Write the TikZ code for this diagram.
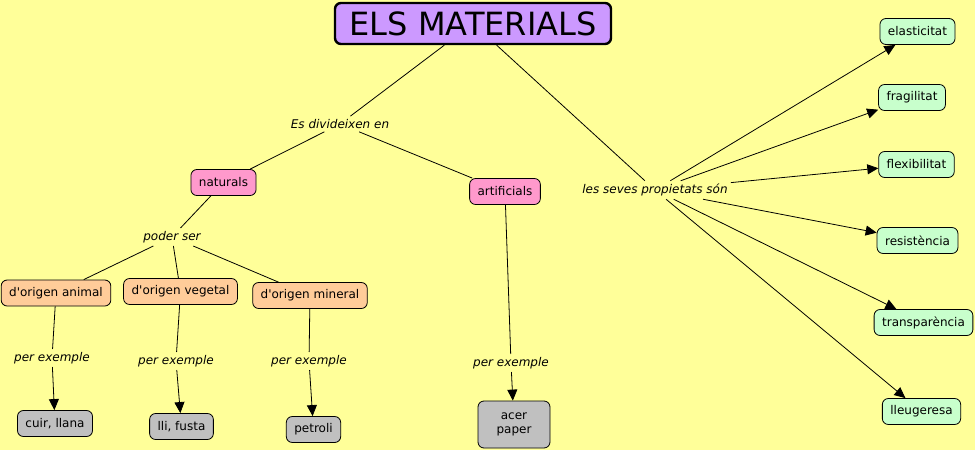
\documentclass[tikz,border=0pt]{standalone}
\usepackage{fontspec}
\setmainfont{DejaVu Sans}
\usetikzlibrary{arrows.meta, positioning}
\definecolor{cbg}{HTML}{FFFF99}
\definecolor{ctitle}{HTML}{CC99FF}
\definecolor{cpink}{HTML}{FF99CC}
\definecolor{corange}{HTML}{FFCC99}
\definecolor{cgray}{HTML}{C0C0C0}
\definecolor{cgreen}{HTML}{C8FFCC}

\begin{document}
\begin{tikzpicture}[
  x=1pt, y=-1pt,
  font=\fontsize{12}{14}\selectfont,
  >={Triangle[length=11pt, width=10pt]},
  box/.style={draw, line width=0.8pt, rounded corners=6pt, align=center,
              inner xsep=8pt, inner ysep=3pt, minimum height=26pt},
  link/.style={inner sep=3pt, font=\fontsize{12}{14}\selectfont\itshape},
  line/.style={line width=0.8pt},
  arr/.style={->, line width=0.8pt},
  ]
\fill[cbg] (0,0) rectangle (975,450);
\useasboundingbox (0,0) rectangle (975,450);

% concepts
\node[box, fill=ctitle, line width=2.4pt, minimum width=276pt, minimum height=41pt,
      font=\fontsize{32}{36}\selectfont] (title) at (473,23.5) {ELS MATERIALS};
\node[box, fill=cpink] (naturals) at (223.5,182.5) {naturals};
\node[box, fill=cpink] (artificials) at (505,191.5) {artificials};
\node[box, fill=corange] (animal) at (56,293) {d\textquotesingle origen animal};
\node[box, fill=corange] (vegetal) at (180.5,291.5) {d\textquotesingle origen vegetal};
\node[box, fill=corange] (mineral) at (310,295.5) {d\textquotesingle origen mineral};
\node[box, fill=cgray] (cuir) at (55,423.5) {cuir, llana};
\node[box, fill=cgray] (lli) at (181.5,426.5) {lli, fusta};
\node[box, fill=cgray] (petroli) at (313.5,429.5) {petroli};
\node[box, fill=cgray, minimum width=72pt, minimum height=47pt] (acer) at (514,424.5) {acer\\paper};
\node[box, fill=cgreen] (elast) at (917.5,31.5) {elasticitat};
\node[box, fill=cgreen] (fragil) at (912,97.5) {fragilitat};
\node[box, fill=cgreen] (flexib) at (916.5,164.5) {flexibilitat};
\node[box, fill=cgreen] (resist) at (917.5,240.5) {resistència};
\node[box, fill=cgreen] (transp) at (923.5,322.5) {transparència};
\node[box, fill=cgreen] (lleug) at (921.5,411.5) {lleugeresa};

% linking phrases
\node[link] (divid) at (340,124) {Es divideixen en};
\node[link] (poder) at (172,237) {poder ser};
\node[link] (ex1) at (52,358) {per exemple};
\node[link] (ex2) at (176,361) {per exemple};
\node[link] (ex3) at (309,361) {per exemple};
\node[link] (ex4) at (511,363) {per exemple};
\node[link] (props) at (655,190) {les seves propietats són};

\draw[line] (title) -- (divid);
\draw[line] (divid) -- (naturals);
\draw[line] (divid) -- (artificials);
\draw[line] (naturals) -- (poder);
\draw[line] (poder) -- (animal);
\draw[line] (poder) -- (vegetal);
\draw[line] (poder) -- (mineral);
\draw[line] (animal) -- (ex1);
\draw[line] (vegetal) -- (ex2);
\draw[line] (mineral) -- (ex3);
\draw[line] (artificials) -- (ex4);
\draw[arr] (ex1) -- (cuir);
\draw[arr] (ex2) -- (lli);
\draw[arr] (ex3) -- (petroli);
\draw[arr] (ex4) -- (acer);
\draw[line] (title) -- (props);
\draw[arr] (props) -- (elast);
\draw[arr] (props) -- (fragil);
\draw[arr] (props) -- (flexib);
\draw[arr] (props) -- (resist);
\draw[arr] (props) -- (transp);
\draw[arr] (props) -- (lleug);
\end{tikzpicture}
\end{document}
